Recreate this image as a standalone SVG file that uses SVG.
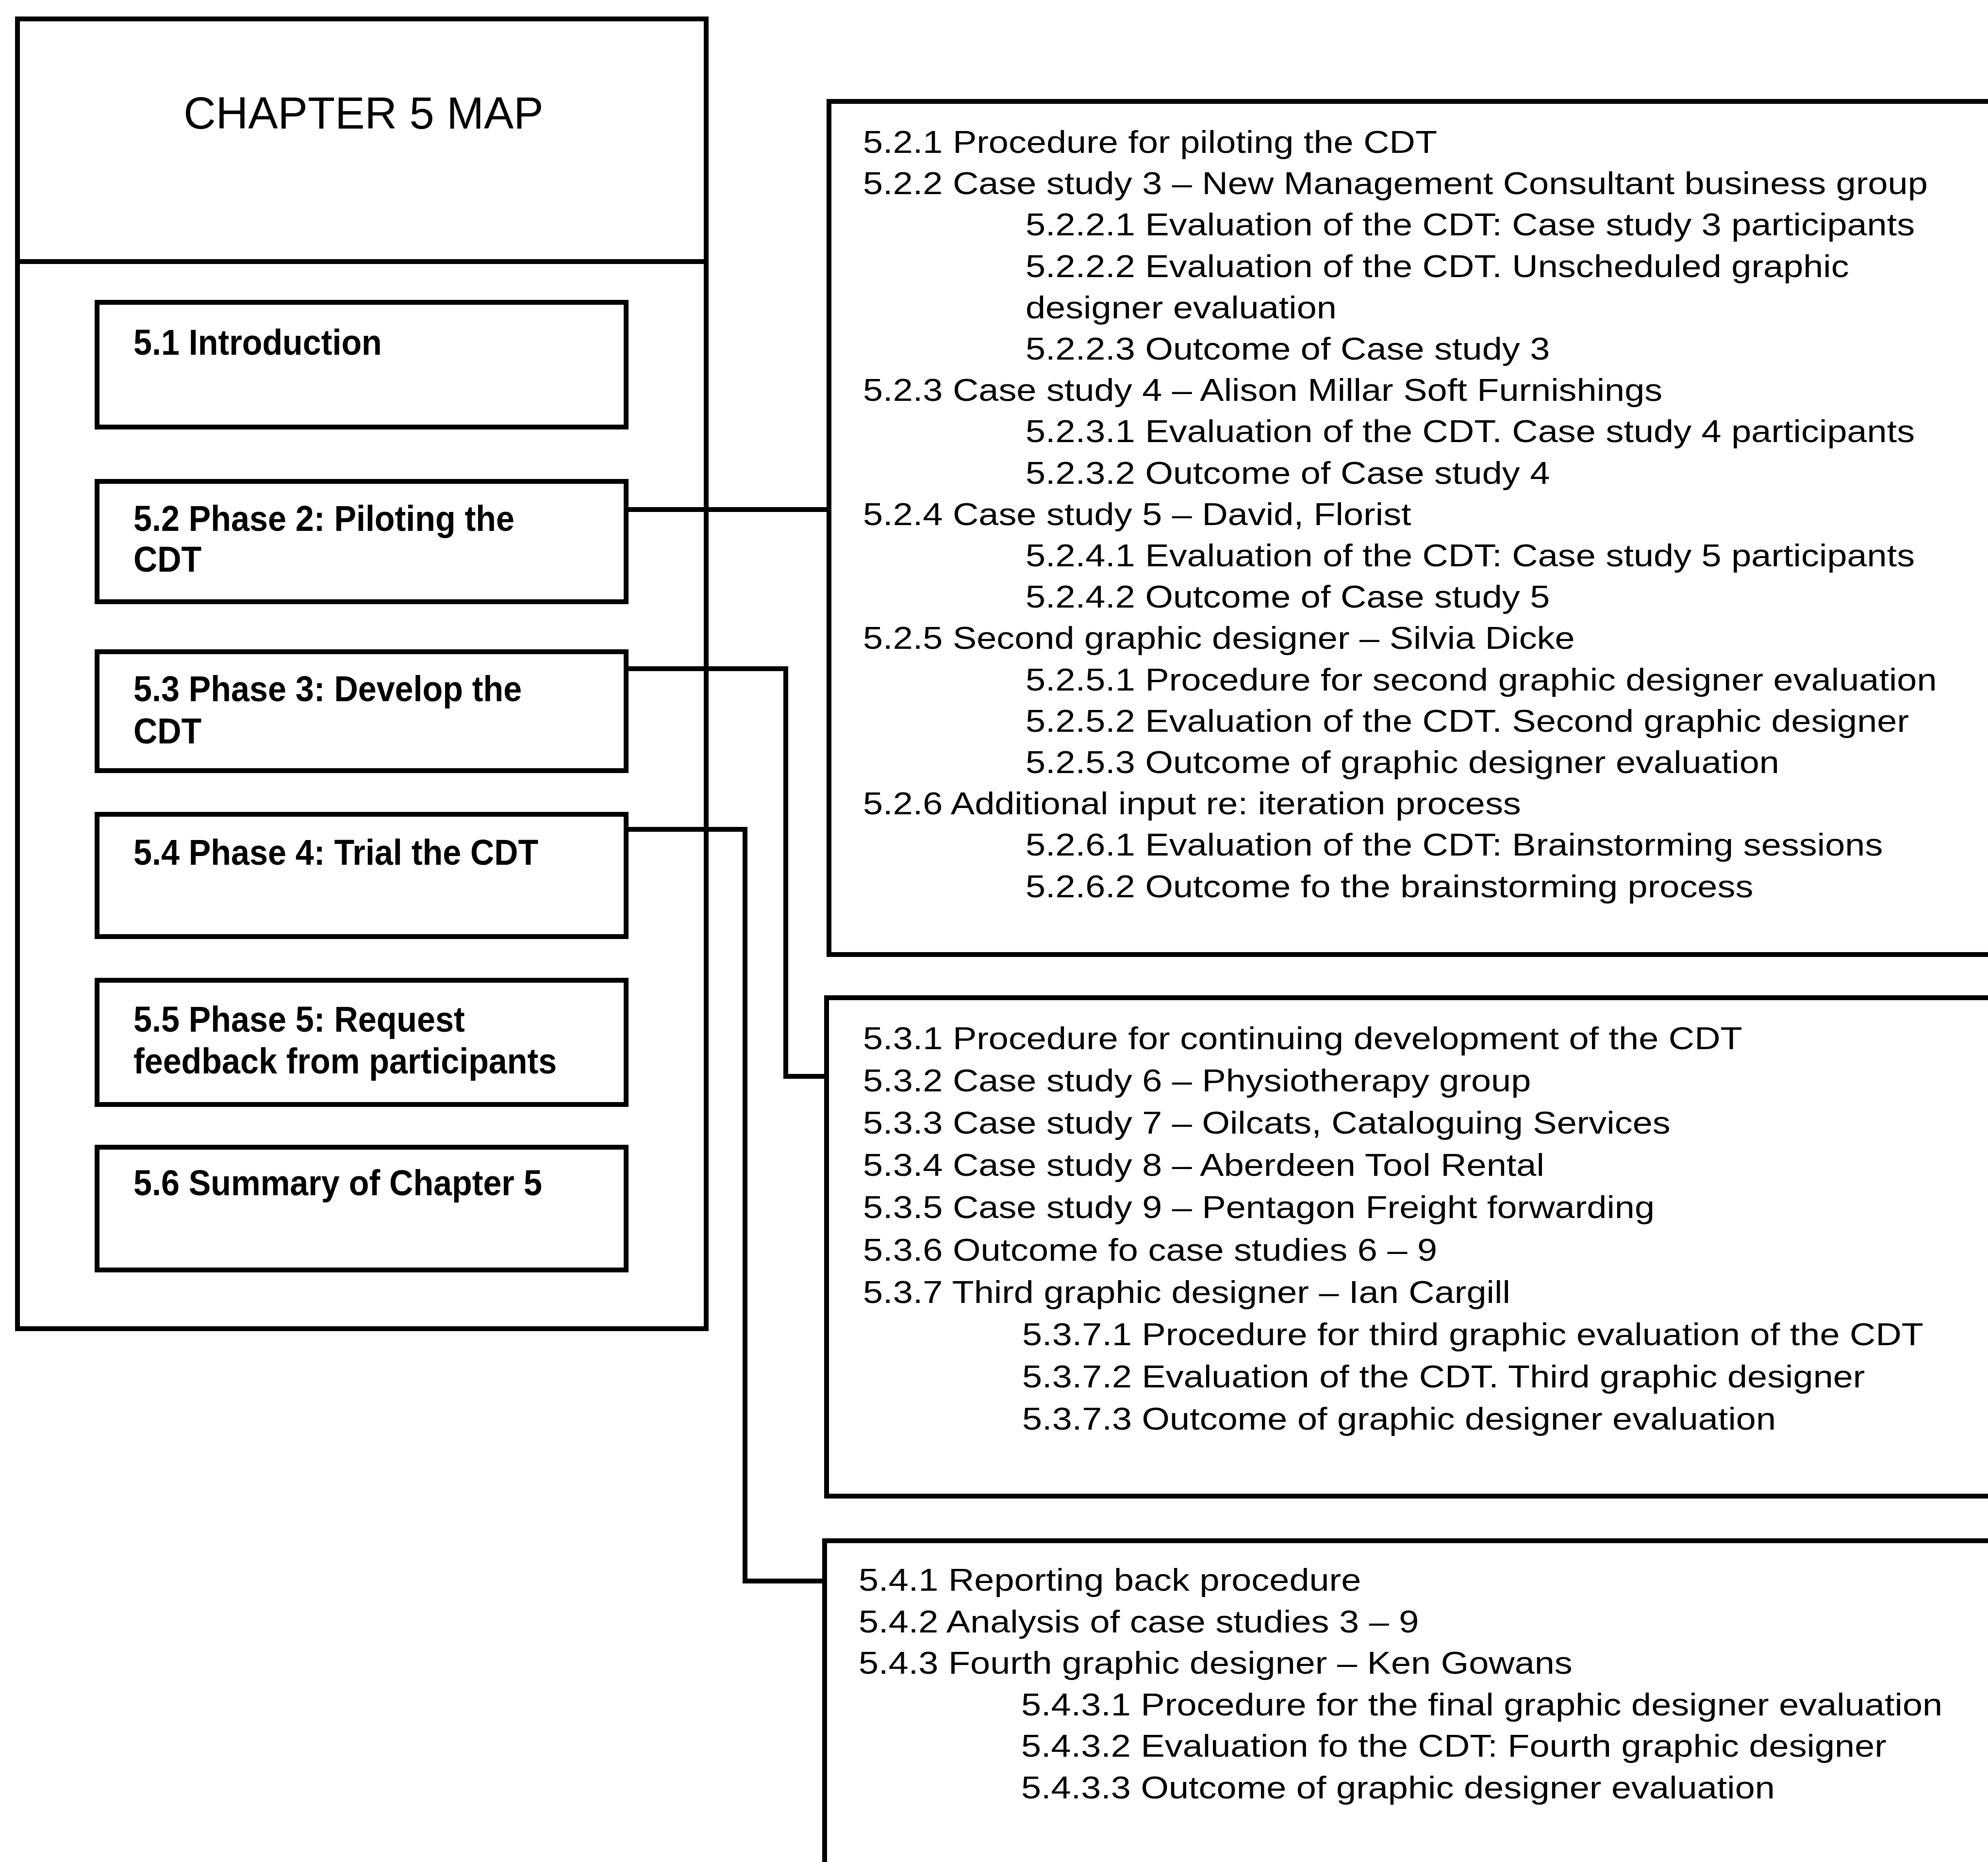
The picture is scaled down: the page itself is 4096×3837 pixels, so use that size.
<svg xmlns="http://www.w3.org/2000/svg" width="4096" height="3837" viewBox="0 0 4096 3837">
  <style>
    .box { fill: #ffffff; stroke: #000000; stroke-width: 10; }
    .wire { fill: none; stroke: #000000; stroke-width: 10; stroke-linejoin: miter; }
    .title { font-family: "Liberation Sans", Arial, sans-serif; font-size: 92px; fill: #000; text-anchor: middle; }
    .sec { font-family: "Liberation Sans", Arial, sans-serif; font-size: 75px; font-weight: bold; fill: #000; }
    .sub { font-family: "Liberation Sans", Arial, sans-serif; font-size: 64px; fill: #000; }
  </style>
  <rect width="4096" height="3837" fill="#ffffff"/>

  <!-- chapter map frame with its section boxes -->
  <g id="chapter-map">
    <rect class="box" x="36" y="39" width="1419" height="2699"/>
    <line class="wire" x1="36" y1="539" x2="1455" y2="539"/>
    <text class="title" x="749" y="265">CHAPTER 5 MAP</text>
  </g>

  <g id="s5-1">
    <rect class="box" x="200" y="623" width="1090" height="257"/>
    <g transform="translate(275 0) scale(0.91 1)">
      <text class="sec" x="0" y="731">5.1 Introduction</text>
    </g>
  </g>

  <g id="s5-2">
    <rect class="box" x="200" y="992" width="1090" height="248"/>
    <g transform="translate(275 0) scale(0.91 1)">
      <text class="sec" x="0" y="1094">5.2 Phase 2: Piloting the</text>
      <text class="sec" x="0" y="1178">CDT</text>
    </g>
  </g>

  <g id="s5-3">
    <rect class="box" x="200" y="1343" width="1090" height="245"/>
    <g transform="translate(275 0) scale(0.91 1)">
      <text class="sec" x="0" y="1445">5.3 Phase 3: Develop the</text>
      <text class="sec" x="0" y="1532">CDT</text>
    </g>
  </g>

  <g id="s5-4">
    <rect class="box" x="200" y="1678" width="1090" height="252"/>
    <g transform="translate(275 0) scale(0.91 1)">
      <text class="sec" x="0" y="1782">5.4 Phase 4: Trial the CDT</text>
    </g>
  </g>

  <g id="s5-5">
    <rect class="box" x="200" y="2020" width="1090" height="256"/>
    <g transform="translate(275 0) scale(0.91 1)">
      <text class="sec" x="0" y="2126">5.5 Phase 5: Request</text>
      <text class="sec" x="0" y="2212">feedback from participants</text>
    </g>
  </g>

  <g id="s5-6">
    <rect class="box" x="200" y="2364" width="1090" height="253"/>
    <g transform="translate(275 0) scale(0.91 1)">
      <text class="sec" x="0" y="2463">5.6 Summary of Chapter 5</text>
    </g>
  </g>

  <!-- detail panels (run off the right / bottom edge of the page) -->
  <g id="d5-2">
    <rect class="box" x="1708" y="209" width="2500" height="1758"/>
    <g transform="translate(1778 0) scale(1.155 1)">
      <text class="sub" x="0" y="315">5.2.1 Procedure for piloting the CDT</text>
      <text class="sub" x="0" y="400">5.2.2 Case study 3 – New Management Consultant business group</text>
      <text class="sub" x="290" y="485">5.2.2.1 Evaluation of the CDT: Case study 3 participants</text>
      <text class="sub" x="290" y="571">5.2.2.2 Evaluation of the CDT. Unscheduled graphic</text>
      <text class="sub" x="290" y="656">designer evaluation</text>
      <text class="sub" x="290" y="741">5.2.2.3 Outcome of Case study 3</text>
      <text class="sub" x="0" y="826">5.2.3 Case study 4 – Alison Millar Soft Furnishings</text>
      <text class="sub" x="290" y="911">5.2.3.1 Evaluation of the CDT. Case study 4 participants</text>
      <text class="sub" x="290" y="997">5.2.3.2 Outcome of Case study 4</text>
      <text class="sub" x="0" y="1082">5.2.4 Case study 5 – David, Florist</text>
      <text class="sub" x="290" y="1167">5.2.4.1 Evaluation of the CDT: Case study 5 participants</text>
      <text class="sub" x="290" y="1252">5.2.4.2 Outcome of Case study 5</text>
      <text class="sub" x="0" y="1337">5.2.5 Second graphic designer – Silvia Dicke</text>
      <text class="sub" x="290" y="1423">5.2.5.1 Procedure for second graphic designer evaluation</text>
      <text class="sub" x="290" y="1508">5.2.5.2 Evaluation of the CDT. Second graphic designer</text>
      <text class="sub" x="290" y="1593">5.2.5.3 Outcome of graphic designer evaluation</text>
      <text class="sub" x="0" y="1678">5.2.6 Additional input re: iteration process</text>
      <text class="sub" x="290" y="1763">5.2.6.1 Evaluation of the CDT: Brainstorming sessions</text>
      <text class="sub" x="290" y="1849">5.2.6.2 Outcome fo the brainstorming process</text>
    </g>
  </g>

  <g id="d5-3">
    <rect class="box" x="1703" y="2056" width="2500" height="1027"/>
    <g transform="translate(1778 0) scale(1.155 1)">
      <text class="sub" x="0" y="2162">5.3.1 Procedure for continuing development of the CDT</text>
      <text class="sub" x="0" y="2249">5.3.2 Case study 6 – Physiotherapy group</text>
      <text class="sub" x="0" y="2336">5.3.3 Case study 7 – Oilcats, Cataloguing Services</text>
      <text class="sub" x="0" y="2423">5.3.4 Case study 8 – Aberdeen Tool Rental</text>
      <text class="sub" x="0" y="2510">5.3.5 Case study 9 – Pentagon Freight forwarding</text>
      <text class="sub" x="0" y="2598">5.3.6 Outcome fo case studies 6 – 9</text>
      <text class="sub" x="0" y="2685">5.3.7 Third graphic designer – Ian Cargill</text>
      <text class="sub" x="284" y="2772">5.3.7.1 Procedure for third graphic evaluation of the CDT</text>
      <text class="sub" x="284" y="2859">5.3.7.2 Evaluation of the CDT. Third graphic designer</text>
      <text class="sub" x="284" y="2946">5.3.7.3 Outcome of graphic designer evaluation</text>
    </g>
  </g>

  <g id="d5-4">
    <rect class="box" x="1699" y="3175" width="2500" height="800"/>
    <g transform="translate(1769 0) scale(1.155 1)">
      <text class="sub" x="0" y="3278">5.4.1 Reporting back procedure</text>
      <text class="sub" x="0" y="3364">5.4.2 Analysis of case studies 3 – 9</text>
      <text class="sub" x="0" y="3449">5.4.3 Fourth graphic designer – Ken Gowans</text>
      <text class="sub" x="290" y="3535">5.4.3.1 Procedure for the final graphic designer evaluation</text>
      <text class="sub" x="290" y="3620">5.4.3.2 Evaluation fo the CDT: Fourth graphic designer</text>
      <text class="sub" x="290" y="3706">5.4.3.3 Outcome of graphic designer evaluation</text>
    </g>
  </g>

  <!-- elbow connectors from the section boxes to their detail panels -->
  <g id="connectors">
    <polyline class="wire" points="1290,1050 1708,1050"/>
    <polyline class="wire" points="1290,1378 1619,1378 1619,2218 1703,2218"/>
    <polyline class="wire" points="1290,1709 1535,1709 1535,3258 1699,3258"/>
  </g>
</svg>
